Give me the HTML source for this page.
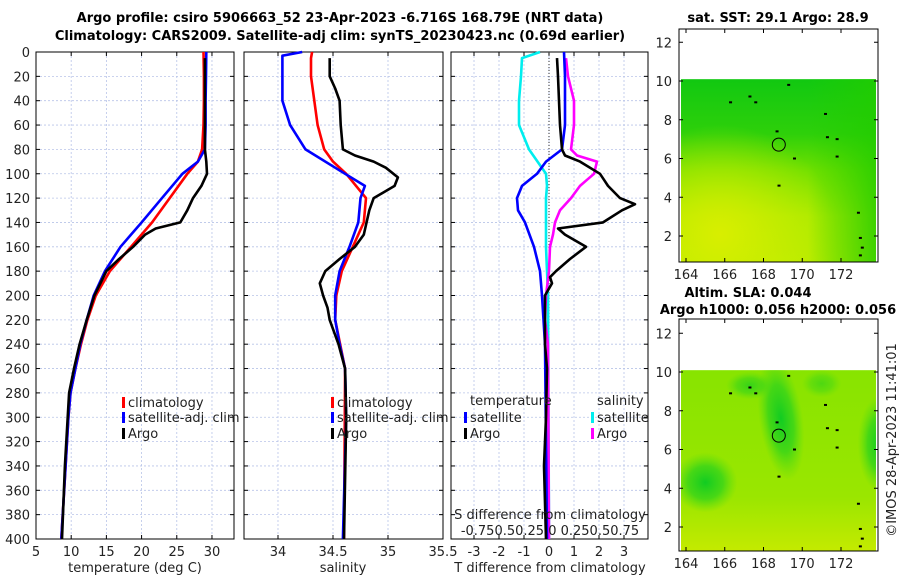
<!DOCTYPE html>
<html><head><meta charset="utf-8">
<style>
html,body{margin:0;padding:0;background:#fff;}
svg{display:block;font-family:"DejaVu Sans","Liberation Sans",sans-serif;}
</style></head>
<body>
<svg id="chart" width="900" height="580" viewBox="0 0 900 580" xmlns="http://www.w3.org/2000/svg">
<defs>
<linearGradient id="sstG" x1="0" y1="0" x2="0" y2="1">
<stop offset="0" stop-color="#11c811"/><stop offset="0.3" stop-color="#2ed00a"/><stop offset="0.5" stop-color="#70e000"/><stop offset="0.75" stop-color="#a8ea00"/><stop offset="1" stop-color="#b5ec00"/></linearGradient>
<radialGradient id="sstY" cx="0.2" cy="0.85" r="0.6"><stop offset="0" stop-color="#d8ee00" stop-opacity="1"/><stop offset="1" stop-color="#d8ee00" stop-opacity="0"/></radialGradient>
<linearGradient id="sstR" x1="0" y1="0" x2="1" y2="0"><stop offset="0.65" stop-color="#22cc00" stop-opacity="0"/><stop offset="1" stop-color="#22cc00" stop-opacity="0.8"/></linearGradient>
<radialGradient id="slaG" cx="0.5" cy="0.5" r="0.5"><stop offset="0" stop-color="#11cc22"/><stop offset="0.55" stop-color="#33d41a" stop-opacity="0.8"/><stop offset="1" stop-color="#55dc10" stop-opacity="0"/></radialGradient>
<linearGradient id="slaBase" x1="0" y1="0" x2="0" y2="1"><stop offset="0" stop-color="#88e400"/><stop offset="0.7" stop-color="#9ae600"/><stop offset="1" stop-color="#c4ea00"/></linearGradient>
</defs>
<g id="root"></g>
</svg>
<script>
// ---- data ----
const depthClimT = [0,20,40,60,80,90,100,120,140,160,180,200,220,240,260,280,300,340,400];
const climT      = [28.8,28.85,28.85,28.8,28.6,28.0,26.5,24.0,21.5,18.5,15.5,13.5,12.3,11.4,10.6,9.9,9.6,9.2,8.6];
const depthSatT  = [0,20,40,60,80,90,100,120,140,160,180,200,220,240,260,280,300,340,400];
const satT       = [29.2,29.15,29.1,29.1,29.0,28.0,25.8,22.9,20.0,17.0,14.8,13.2,12.2,11.3,10.6,9.9,9.6,9.2,8.6];
const depthArgoT = [5,20,40,60,80,90,100,110,120,130,140,145,150,160,170,180,200,220,240,260,280,300,340,400];
const argoT      = [29.0,29.0,29.0,29.0,29.0,29.2,29.3,28.5,27.3,26.5,25.5,22.0,20.5,18.8,16.8,15.0,13.3,12.2,11.2,10.4,9.7,9.5,9.1,8.7];

const depthClimS = [0,5,20,40,60,80,90,100,120,140,160,180,200,220,260,400];
const climS      = [34.31,34.3,34.3,34.33,34.36,34.42,34.5,34.62,34.8,34.78,34.68,34.58,34.53,34.52,34.61,34.6];
const depthSatS  = [0,3,20,40,60,80,100,110,120,140,160,180,200,220,240,260,300,400];
const satS       = [34.22,34.04,34.04,34.04,34.11,34.25,34.61,34.79,34.75,34.73,34.65,34.56,34.52,34.52,34.56,34.61,34.62,34.59];
const depthArgoS = [5,20,30,40,60,80,85,90,95,103,110,120,130,150,160,170,180,190,200,210,220,240,260,300,400];
const argoS      = [34.47,34.47,34.52,34.56,34.57,34.59,34.7,34.87,34.98,35.09,35.06,34.87,34.83,34.78,34.70,34.56,34.43,34.38,34.41,34.45,34.47,34.55,34.61,34.62,34.6];

const depthDiffSatT  = [0,20,60,80,90,100,110,120,130,140,160,180,200,240,400];
const diffSatT       = [0.6,0.64,0.64,0.52,-0.12,-0.48,-1.08,-1.28,-1.24,-0.96,-0.6,-0.36,-0.28,-0.16,-0.08];
const depthDiffArgoT = [5,20,60,80,85,90,100,105,110,120,125,130,140,145,150,160,170,180,185,190,200,220,240,260,300,340,400];
const diffArgoT      = [0.32,0.36,0.44,0.52,0.64,1.24,2.04,2.2,2.36,2.84,3.44,2.92,2.16,0.36,0.64,1.48,0.84,0.28,0.04,0.12,-0.16,-0.16,-0.16,-0.08,-0.12,-0.2,-0.12];
const depthDiffSatS  = [0,5,20,40,60,80,100,110,120,160,200,400];
const diffSatS       = [-0.09,-0.27,-0.28,-0.30,-0.30,-0.20,-0.03,-0.02,-0.03,-0.03,-0.01,0.0];
const depthDiffArgoS = [5,20,40,60,80,85,90,100,105,110,120,130,140,150,160,180,200,220,240,400];
const diffArgoS      = [0.17,0.19,0.25,0.25,0.22,0.28,0.48,0.45,0.38,0.31,0.22,0.11,0.06,0.04,0.01,0.0,-0.03,-0.04,-0.01,0.0];

const depthTicks = [0,20,40,60,80,100,120,140,160,180,200,220,240,260,280,300,320,340,360,380,400];
const tempTicks = [5,10,15,20,25,30];
const salTicks = [34,34.5,35,35.5];
const tdiffTicks = [-3,-2,-1,0,1,2,3];
const latTicks = [2,4,6,8,10,12];
const lonTicks = [164,166,168,170,172];

// ---- helpers ----
const NS="http://www.w3.org/2000/svg";
const root=document.getElementById('root');
const defs=document.querySelector('defs');
function el(tag,attrs,parent,text){const e=document.createElementNS(NS,tag);for(const k in attrs)e.setAttribute(k,attrs[k]);if(text!==undefined)e.textContent=text;(parent||root).appendChild(e);return e;}
const Y0=52,Y1=539;
const yD=d=>Y0+(d/400)*(Y1-Y0);
const panels=[
 {x0:36,x1:234,v0:5,v1:33.13},
 {x0:244,x1:443,v0:33.691,v1:35.5},
 {x0:451,x1:648,v0:-3.92,v1:3.96}
];
const xF=(p,v)=>p.x0+(v-p.v0)/(p.v1-p.v0)*(p.x1-p.x0);
const xT=v=>xF(panels[0],v), xS=v=>xF(panels[1],v), xDT=v=>xF(panels[2],v), xDS=v=>xF(panels[2],v*4);

function panelFrame(p,ticks,name){
  const g=el('g',{});
  
  
  el('rect',{x:p.x0,y:Y0,width:p.x1-p.x0,height:Y1-Y0,fill:'#fff'},g);
  depthTicks.forEach(d=>{if(d>0&&d<400)el('line',{x1:p.x0,x2:p.x1,y1:yD(d),y2:yD(d),stroke:'#b8c4e8','stroke-width':0.8,'stroke-dasharray':'2,2'},g);});
  ticks.forEach(v=>{const x=xF(p,v);if(x>p.x0+1&&x<p.x1-1)el('line',{x1:x,x2:x,y1:Y0,y2:Y1,stroke:'#b8c4e8','stroke-width':0.8,'stroke-dasharray':'2,2'},g);});
  depthTicks.forEach(d=>{el('line',{x1:p.x0,x2:p.x0+4,y1:yD(d),y2:yD(d),stroke:'#000'},g);el('line',{x1:p.x1-4,x2:p.x1,y1:yD(d),y2:yD(d),stroke:'#000'},g);});
  ticks.forEach(v=>{const x=xF(p,v);el('line',{x1:x,x2:x,y1:Y1-4,y2:Y1,stroke:'#000'},g);el('line',{x1:x,x2:x,y1:Y0,y2:Y0+4,stroke:'#000'},g);});
  el('rect',{x:p.x0,y:Y0,width:p.x1-p.x0,height:Y1-Y0,fill:'none',stroke:'#000','stroke-width':1},g);
  return g;
}
function line(xs,ds,fx,color,name,w){
  const pts=xs.map((v,i)=>fx(v).toFixed(1)+','+yD(ds[i]).toFixed(1)).join(' ');
  const e=el('polyline',{points:pts,fill:'none',stroke:color,'stroke-width':w||2.6,'stroke-linejoin':'round'});
  
  
  return e;
}
function txt(x,y,s,opts,name){
  const e=el('text',Object.assign({x:x,y:y,'font-size':13,fill:'#222'},opts||{}),root,s);
  
  
  return e;
}
function legItem(x,y,color,label,name){
  const g=el('g',{});
  
  
  el('rect',{x:x,y:y-10,width:3,height:11,fill:color},g);
  el('text',{x:x+6,y:y,'font-size':13,fill:'#222'},g,label);
}

// titles
txt(340,22,'Argo profile: csiro 5906663_52 23-Apr-2023 -6.716S 168.79E (NRT data)',{'font-weight':'bold','text-anchor':'middle',fill:'#000'},'main-title-line1');
txt(340,40,'Climatology: CARS2009. Satellite-adj clim: synTS_20230423.nc (0.69d earlier)',{'font-weight':'bold','text-anchor':'middle',fill:'#000'},'main-title-line2');

// panel 1 temperature
panelFrame(panels[0],tempTicks,'temperature-panel');
depthTicks.forEach(d=>txt(30,yD(d)+5,String(d),{'text-anchor':'end'},'depth-tick-label'));
tempTicks.forEach(v=>txt(xT(v),556,String(v),{'text-anchor':'middle'},'temp-tick-label'));
txt(135,572,'temperature (deg C)',{'text-anchor':'middle'},'temperature-axis-title');
line(climT,depthClimT,xT,'#f00','temp-climatology-line');
line(satT,depthSatT,xT,'#00f','temp-satellite-line');
line(argoT,depthArgoT,xT,'#000','temp-argo-line');
legItem(122,407,'#f00','climatology','legend-climatology');
legItem(122,422,'#00f','satellite-adj. clim','legend-satellite-adj');
legItem(122,438,'#000','Argo','legend-argo');

// panel 2 salinity
panelFrame(panels[1],salTicks,'salinity-panel');
salTicks.forEach(v=>txt(xS(v),556,String(v),{'text-anchor':'middle'},'salinity-tick-label'));
txt(343,572,'salinity',{'text-anchor':'middle'},'salinity-axis-title');
line(climS,depthClimS,xS,'#f00','sal-climatology-line');
line(satS,depthSatS,xS,'#00f','sal-satellite-line');
line(argoS,depthArgoS,xS,'#000','sal-argo-line');
legItem(331,407,'#f00','climatology','legend-sal-climatology');
legItem(331,422,'#00f','satellite-adj. clim','legend-sal-satellite-adj');
legItem(331,438,'#000','Argo','legend-sal-argo');

// panel 3 differences
panelFrame(panels[2],tdiffTicks,'difference-panel');
el('line',{x1:xDT(0),x2:xDT(0),y1:Y0,y2:Y1,stroke:'#333','stroke-width':1,'stroke-dasharray':'1,2'});
tdiffTicks.forEach(v=>txt(xDT(v),556,String(v),{'text-anchor':'middle'},'tdiff-tick-label'));
txt(550,572,'T difference from climatology',{'text-anchor':'middle'},'tdiff-axis-title');
line(diffSatS,depthDiffSatS,xDS,'#0ee','sdiff-satellite-line');
line(diffArgoS,depthDiffArgoS,xDS,'#f0f','sdiff-argo-line');
line(diffSatT,depthDiffSatT,xDT,'#00f','tdiff-satellite-line');
line(diffArgoT,depthDiffArgoT,xDT,'#000','tdiff-argo-line');
txt(470,405,'temperature',{},'legend-temperature-heading');
txt(597,405,'salinity',{},'legend-salinity-heading');
legItem(464,422,'#00f','satellite','legend-tdiff-satellite');
legItem(464,438,'#000','Argo','legend-tdiff-argo');
legItem(591,422,'#0ee','satellite','legend-sdiff-satellite');
legItem(591,438,'#f0f','Argo','legend-sdiff-argo');
txt(550,519,'S difference from climatology',{'text-anchor':'middle'},'sdiff-axis-title');
txt(550,535,'-0.750.50.25 0  0.250.50.75',{'text-anchor':'middle'},'sdiff-tick-labels');

// maps
const MX0=679,MX1=878;
const lonX=l=>686+(l-164)*19.375;
function mapFrame(top,bottom,name,kind){
  const latY=la=>(kind==='sst'?236:527)-(la-2)*19.375;
  const g=el('g',{});
  
  
  el('rect',{x:MX0,y:top,width:MX1-MX0,height:bottom-top,fill:'#fff'},g);
  const fy=latY(10.1), fx0=681, fx1=876;
  const cp=el('clipPath',{id:'clip-'+kind},defs);
  el('rect',{x:fx0,y:fy,width:fx1-fx0,height:bottom-fy},cp);
  const f=el('g',{'clip-path':'url(#clip-'+kind+')'},g);
  if(kind==='sst'){
    el('rect',{x:fx0,y:fy,width:fx1-fx0,height:bottom-fy,fill:'url(#sstG)'},f);
    el('rect',{x:fx0,y:fy,width:fx1-fx0,height:bottom-fy,fill:'url(#sstY)'},f);
    el('rect',{x:fx0,y:fy,width:fx1-fx0,height:bottom-fy,fill:'url(#sstR)'},f);
  } else {
    el('rect',{x:fx0,y:fy,width:fx1-fx0,height:bottom-fy,fill:'url(#slaBase)'},f);
    el('ellipse',{cx:lonX(165),cy:latY(4.3),rx:32,ry:30,fill:'url(#slaG)'},f);
    el('ellipse',{cx:lonX(168.9),cy:latY(7.6),rx:22,ry:62,fill:'url(#slaG)',transform:'rotate(-8 '+lonX(168.9)+' '+latY(7.6)+')'},f);
    el('ellipse',{cx:lonX(174),cy:latY(6.3),rx:22,ry:48,fill:'url(#slaG)'},f);
    el('ellipse',{cx:lonX(167.3),cy:latY(9.3),rx:24,ry:14,fill:'url(#slaG)','opacity':0.7},f);
    el('ellipse',{cx:lonX(171),cy:latY(9.4),rx:20,ry:14,fill:'url(#slaG)','opacity':0.5},f);
  }
  [[169.3,9.8],[167.3,9.2],[167.6,8.9],[166.3,8.9],[171.2,8.3],[168.7,7.4],[171.3,7.1],[171.8,7.0],[169.6,6.0],[171.8,6.1],[168.8,4.6],[172.9,3.2],[173,1.9],[173.1,1.4],[173,1.0]].forEach(p=>{
    el('rect',{x:lonX(p[0])-1.5,y:latY(p[1])-1,width:3,height:2,fill:'#000'},g);
  });
  el('circle',{cx:lonX(168.79),cy:latY(6.716),r:6.5,fill:'none',stroke:'#000','stroke-width':1},g);
  latTicks.forEach(la=>{const y=latY(la);el('line',{x1:MX0,x2:MX0+4,y1:y,y2:y,stroke:'#000'},g);el('line',{x1:MX1-4,x2:MX1,y1:y,y2:y,stroke:'#000'},g);
    el('text',{x:672,y:y+5,'font-size':13,fill:'#222','text-anchor':'end'},g,String(la));});
  lonTicks.forEach(lo=>{const x=lonX(lo);el('line',{x1:x,x2:x,y1:bottom-4,y2:bottom,stroke:'#000'},g);el('line',{x1:x,x2:x,y1:top,y2:top+4,stroke:'#000'},g);
    el('text',{x:x,y:bottom+17,'font-size':13,fill:'#222','text-anchor':'middle'},g,String(lo));});
  el('rect',{x:MX0,y:top,width:MX1-MX0,height:bottom-top,fill:'none',stroke:'#000'},g);
}
mapFrame(29,262,'sst-map','sst');
mapFrame(319,551,'sla-map','sla');
txt(778,22,'sat. SST: 29.1 Argo: 28.9',{'font-weight':'bold','text-anchor':'middle',fill:'#000'},'sst-map-title');
txt(748,297,'Altim. SLA: 0.044',{'font-weight':'bold','text-anchor':'middle',fill:'#000'},'sla-map-title');
txt(778,314,'Argo h1000: 0.056 h2000: 0.056',{'font-weight':'bold','text-anchor':'middle',fill:'#000'},'sla-map-subtitle');
txt(0,0,'©IMOS 28-Apr-2023 11:41:01',{'text-anchor':'middle',transform:'translate(896,440) rotate(-90)'},'imos-timestamp');
</script>
</body></html>
